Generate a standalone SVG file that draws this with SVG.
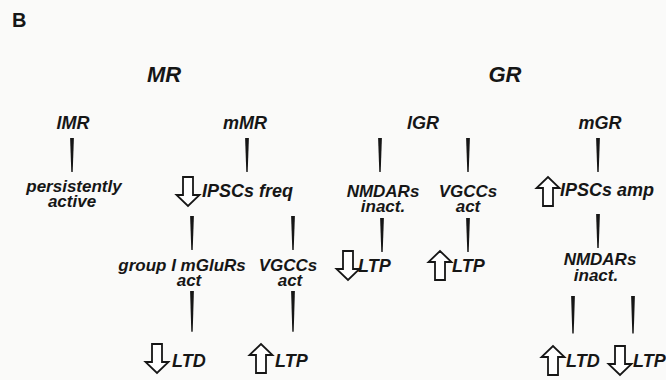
<svg xmlns="http://www.w3.org/2000/svg" xmlns:xlink="http://www.w3.org/1999/xlink" width="666" height="380" viewBox="0 0 666 380">
  <style>
    text { font-family: "Liberation Sans", Arial, sans-serif; font-weight: bold; font-style: italic; fill: #161616; }
    .panel { font-size: 20px; font-style: normal; }
    .title { font-size: 22px; text-anchor: middle; }
    .lbl { font-size: 18px; text-anchor: middle; }
    .pair { font-size: 17px; text-anchor: middle; }
    .tag { font-size: 18px; text-anchor: start; }
    .block { fill: #ffffff; stroke: #161616; stroke-width: 1.8; stroke-linejoin: miter; }
    .wire { fill: #161616; }
  </style>
  <defs>
    <!-- hollow block arrows, anchored at top centre, 29px tall -->
    <path id="arrow-down" class="block" d="M-5,0 H5 V18 H11.5 L0,29 L-11.5,18 H-5 Z"/>
    <path id="arrow-up" class="block" d="M-5,29 H5 V11 H11.5 L0,0 L-11.5,11 H-5 Z"/>
    <!-- tapered stroke used for the links -->
    <path id="link" class="wire" d="M-1.9,0 H1.9 L0.7,34 H-0.7 Z"/>
  </defs>

  <rect width="666" height="380" fill="#fafaf9"/>

  <text class="panel" x="12" y="27">B</text>

  <g id="MR"><text class="title" x="164" y="82">MR</text></g>
  <g id="GR"><text class="title" x="505" y="82">GR</text></g>

  <g id="connectors">
    <!-- first tier -->
    <use xlink:href="#link" x="72" y="138"/>
    <use xlink:href="#link" x="247" y="138"/>
    <use xlink:href="#link" x="380" y="138"/>
    <use xlink:href="#link" x="468" y="138"/>
    <use xlink:href="#link" x="598" y="138"/>
    <!-- second tier -->
    <use xlink:href="#link" x="192" y="216"/>
    <use xlink:href="#link" x="293" y="216"/>
    <use xlink:href="#link" x="382" y="218"/>
    <use xlink:href="#link" x="468" y="218"/>
    <use xlink:href="#link" x="598" y="214"/>
    <!-- third tier -->
    <g transform="translate(0,291) scale(1,1.2)">
      <use xlink:href="#link" x="192" y="0"/>
      <use xlink:href="#link" x="293" y="0"/>
    </g>
    <g transform="translate(0,296) scale(1,1.1)">
      <use xlink:href="#link" x="573" y="0"/>
      <use xlink:href="#link" x="633" y="0"/>
    </g>
  </g>

  <!-- MR branch -->
  <g id="lMR"><text class="lbl" x="73" y="129">lMR</text></g>
  <g id="mMR"><text class="lbl" x="245" y="129">mMR</text></g>
  <g id="persistently-active">
    <text class="pair" x="74" y="192">persistently</text>
    <text class="pair" x="72" y="207">active</text>
  </g>
  <g id="ipscs-freq">
    <use xlink:href="#arrow-down" x="188" y="177"/>
    <text class="tag" x="202" y="197">IPSCs freq</text>
  </g>
  <g id="mglur-act">
    <text class="pair" x="182" y="271">group I mGluRs</text>
    <text class="pair" x="189" y="286">act</text>
  </g>
  <g id="vgcc-act-mr">
    <text class="pair" x="288" y="271">VGCCs</text>
    <text class="pair" x="290" y="286">act</text>
  </g>
  <g id="ltd-mr">
    <use xlink:href="#arrow-down" x="157" y="344"/>
    <text class="tag" x="172" y="367">LTD</text>
  </g>
  <g id="ltp-mr">
    <use xlink:href="#arrow-up" x="261" y="344"/>
    <text class="tag" x="275" y="367">LTP</text>
  </g>

  <!-- GR branch -->
  <g id="lGR"><text class="lbl" x="423" y="129">lGR</text></g>
  <g id="mGR"><text class="lbl" x="600" y="129">mGR</text></g>
  <g id="nmdar-inact-lgr">
    <text class="pair" x="383" y="197">NMDARs</text>
    <text class="pair" x="383" y="212">inact.</text>
  </g>
  <g id="vgcc-act-gr">
    <text class="pair" x="468" y="197">VGCCs</text>
    <text class="pair" x="468" y="212">act</text>
  </g>
  <g id="ltp-down-lgr">
    <use xlink:href="#arrow-down" x="348" y="251"/>
    <text class="tag" x="358" y="272">LTP</text>
  </g>
  <g id="ltp-up-lgr">
    <use xlink:href="#arrow-up" x="440" y="251"/>
    <text class="tag" x="452" y="272">LTP</text>
  </g>
  <g id="ipscs-amp">
    <use xlink:href="#arrow-up" x="548" y="177"/>
    <text class="tag" x="560" y="196">IPSCs amp</text>
  </g>
  <g id="nmdar-inact-mgr">
    <text class="pair" x="600" y="265">NMDARs</text>
    <text class="pair" x="596" y="281">inact.</text>
  </g>
  <g id="ltd-mgr">
    <use xlink:href="#arrow-up" x="553" y="346"/>
    <text class="tag" x="566" y="367">LTD</text>
  </g>
  <g id="ltp-mgr">
    <use xlink:href="#arrow-down" x="620" y="346"/>
    <text class="tag" x="633" y="367">LTP</text>
  </g>
</svg>
